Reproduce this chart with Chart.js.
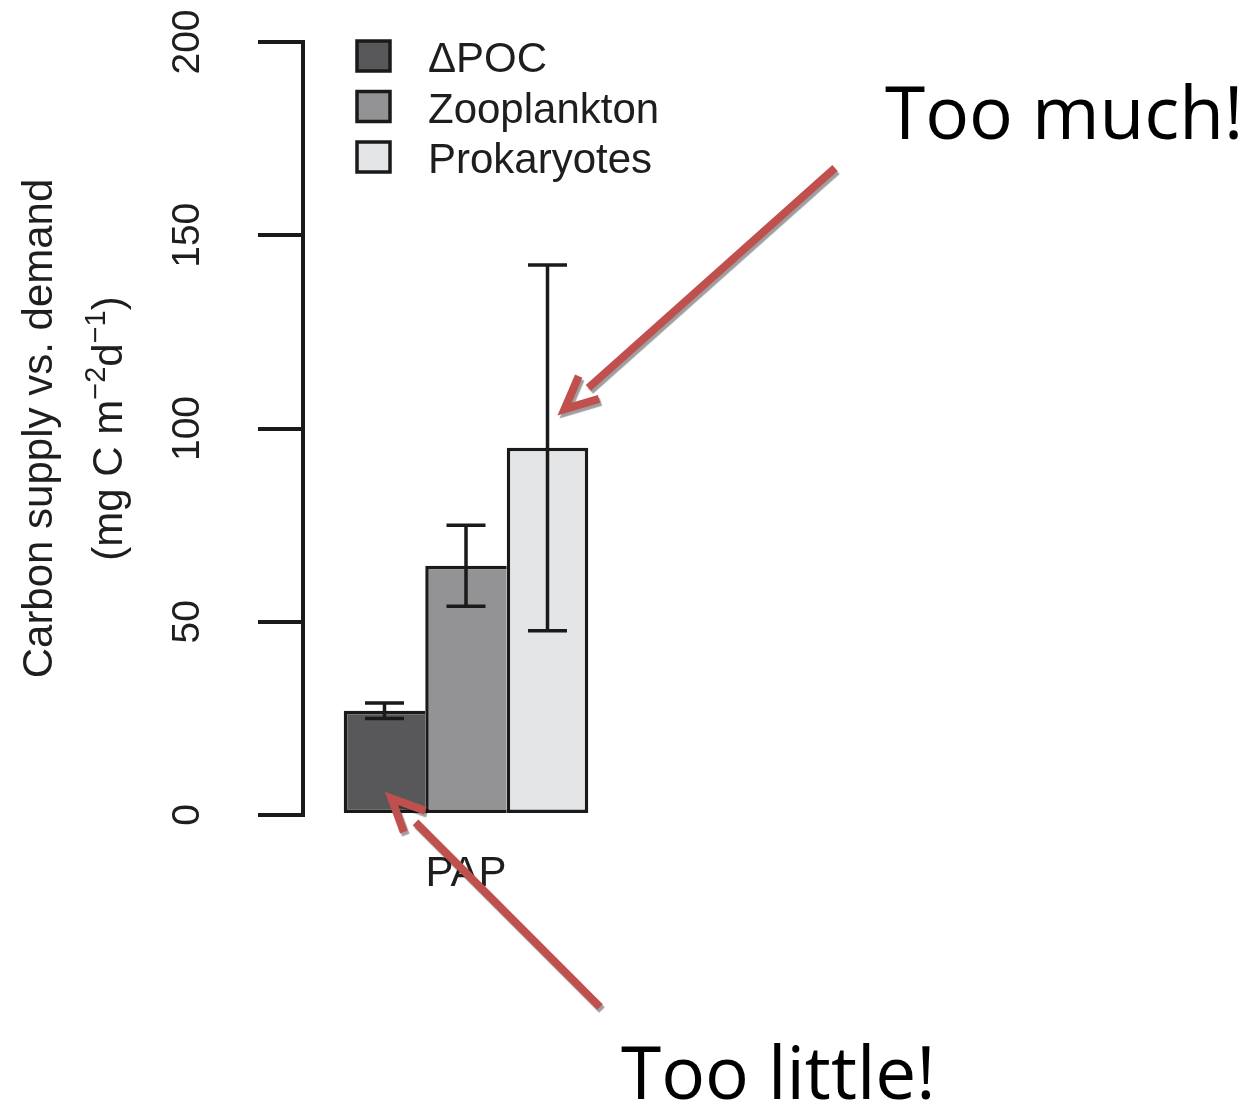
<!DOCTYPE html>
<html>
<head>
<meta charset="utf-8">
<script src="https://cdn.jsdelivr.net/npm/chart.js@4.4.1/dist/chart.umd.min.js"></script>
<style>
  html, body { margin: 0; padding: 0; background: #fff; }
  #wrap { width: 1252px; height: 1106px; }
</style>
</head>
<body>
<div id="wrap"><canvas id="carbonChart" width="1252" height="1106"></canvas></div>
<script>
// carbon supply vs demand at PAP
const sites = ["PAP"];
const seriesNames = ["ΔPOC", "Zooplankton", "Prokaryotes"];
const seriesValues = [27, 64.5, 95];
const seriesErrors = [2, 10.5, 47.3];
const seriesColors = ["#58585b", "#939396", "#e4e5e7"];
const yTicks = [0, 50, 100, 150, 200];

const INK = "#1a1a1a";
const TEXT = "#1e1e1e";
const SANS = "'Liberation Sans', Arial, Helvetica, sans-serif";
const CALLOUT_FONT = "73px 'Open Sans', 'Noto Sans', sans-serif";
const CALLOUT_RED = "#c0504d";

// error bars on top of each bar
const errorBars = {
    id: "errorBars",
    afterDatasetsDraw(chart) {
        const ctx = chart.ctx;
        const y = chart.scales.y;
        ctx.save();
        ctx.strokeStyle = INK;
        ctx.lineWidth = 3.5;
        chart.data.datasets.forEach((ds, i) => {
            const bar = chart.getDatasetMeta(i).data[0];
            const v = ds.data[0];
            const e = seriesErrors[i];
            const top = y.getPixelForValue(v + e);
            const bot = y.getPixelForValue(v - e);
            const cap = 19.5;
            ctx.beginPath();
            ctx.moveTo(bar.x, top);
            ctx.lineTo(bar.x, bot);
            ctx.moveTo(bar.x - cap, top);
            ctx.lineTo(bar.x + cap, top);
            ctx.moveTo(bar.x - cap, bot);
            ctx.lineTo(bar.x + cap, bot);
            ctx.stroke();
        });
        ctx.restore();
    }
};

// text laid out along a vertical baseline, reading bottom to top
function drawRotatedRuns(ctx, runs, baseX, centerY) {
    let total = 0;
    runs.forEach(r => {
        ctx.font = r.font;
        r.w = ctx.measureText(r.text).width;
        total += r.w;
    });
    ctx.save();
    ctx.translate(baseX, centerY);
    ctx.rotate(-Math.PI / 2);
    ctx.textAlign = "left";
    ctx.textBaseline = "alphabetic";
    let x = -total / 2;
    runs.forEach(r => {
        ctx.font = r.font;
        ctx.fillText(r.text, x, r.shift || 0);
        x += r.w;
    });
    ctx.restore();
}

// rotated tick labels, axis title and the legend block
const axisDecor = {
    id: "axisDecor",
    afterDraw(chart) {
        const ctx = chart.ctx;
        const y = chart.scales.y;
        const area = chart.chartArea;
        ctx.save();
        ctx.fillStyle = TEXT;

        yTicks.forEach(t => {
            drawRotatedRuns(ctx, [{ text: String(t), font: "39px " + SANS }], 199, y.getPixelForValue(t));
        });

        const mid = y.getPixelForValue(100);
        const big = "42px " + SANS;
        const sup = "29px " + SANS;
        drawRotatedRuns(ctx, [{ text: "Carbon supply vs. demand", font: big }], 52, mid);
        drawRotatedRuns(ctx, [
            { text: "(mg C m", font: big },
            { text: "\u22122", font: sup, shift: -17 },
            { text: "d", font: big },
            { text: "\u22121", font: sup, shift: -17 },
            { text: ")", font: big }
        ], 122, mid);

        // legend
        const lx = area.left + 54;
        seriesNames.forEach((name, i) => {
            const top = 41 + i * 50.5;
            ctx.fillStyle = seriesColors[i];
            ctx.fillRect(lx, top, 33, 30);
            ctx.strokeStyle = INK;
            ctx.lineWidth = 3.5;
            ctx.strokeRect(lx, top, 33, 30);
            ctx.fillStyle = TEXT;
            ctx.font = "42px " + SANS;
            ctx.textAlign = "left";
            ctx.textBaseline = "alphabetic";
            ctx.fillText(name, lx + 71, top + 31);
        });
        ctx.restore();
    }
};

function drawArrow(ctx, from, tip, headLen, gap) {
    const dx = tip.x - from.x;
    const dy = tip.y - from.y;
    const len = Math.hypot(dx, dy);
    const ux = dx / len;
    const uy = dy / len;
    const back = Math.atan2(-uy, -ux);
    const spread = 25 * Math.PI / 180;
    ctx.beginPath();
    ctx.moveTo(from.x, from.y);
    ctx.lineTo(tip.x - ux * gap, tip.y - uy * gap);
    ctx.stroke();
    ctx.beginPath();
    ctx.moveTo(tip.x + Math.cos(back - spread) * headLen, tip.y + Math.sin(back - spread) * headLen);
    ctx.lineTo(tip.x, tip.y);
    ctx.lineTo(tip.x + Math.cos(back + spread) * headLen, tip.y + Math.sin(back + spread) * headLen);
    ctx.stroke();
}

// slide callouts pointing at the bars
const callouts = {
    id: "callouts",
    afterDraw(chart) {
        const ctx = chart.ctx;
        const y = chart.scales.y;
        const poc = chart.getDatasetMeta(0).data[0];
        const prok = chart.getDatasetMeta(2).data[0];
        ctx.save();
        ctx.fillStyle = "#000";
        ctx.font = CALLOUT_FONT;
        ctx.textAlign = "left";
        ctx.textBaseline = "alphabetic";
        ctx.fillText("Too much!", 885, 139);
        ctx.fillText("Too little!", 621, 1099);

        ctx.strokeStyle = CALLOUT_RED;
        ctx.lineWidth = 8;
        ctx.lineJoin = "miter";
        ctx.lineCap = "butt";
        ctx.shadowColor = "rgba(0,0,0,0.38)";
        ctx.shadowOffsetX = 2;
        ctx.shadowOffsetY = 3;
        ctx.shadowBlur = 1;
        drawArrow(ctx, { x: 835, y: 168 }, { x: prok.x + 17, y: y.getPixelForValue(105) }, 36, 32);
        drawArrow(ctx, { x: 600, y: 1007 }, { x: poc.x + 7, y: y.getPixelForValue(4.3) }, 36, 34);
        ctx.restore();
    }
};

// neighbouring bars share one divider line, so only the last bar has a right edge
const datasets = seriesNames.map((name, i) => ({
    label: name,
    data: [seriesValues[i]],
    backgroundColor: seriesColors[i],
    borderColor: INK,
    borderWidth: { top: 3.5, bottom: 3.5, left: 3.5, right: i === seriesNames.length - 1 ? 3.5 : 0 },
    borderSkipped: false,
    inflateAmount: 0,
    barPercentage: 1,
    categoryPercentage: 0.75
}));

new Chart(document.getElementById("carbonChart"), {
    type: "bar",
    data: { labels: sites, datasets: datasets },
    options: {
        responsive: false,
        devicePixelRatio: 1,
        animation: false,
        layout: { padding: { top: 42, right: 623, bottom: 191, left: 0 } },
        plugins: {
            legend: { display: false },
            tooltip: { enabled: false }
        },
        scales: {
            x: {
                grid: { display: false, drawTicks: false },
                border: { display: false },
                ticks: { color: TEXT, font: { family: SANS, size: 42 }, padding: 34 },
                afterFit: s => { s.height = 100; }
            },
            y: {
                min: 0,
                max: 200,
                ticks: { stepSize: 50, display: false },
                grid: { drawOnChartArea: false, drawTicks: true, tickLength: 45, lineWidth: 4, color: INK },
                border: { display: true, width: 4, color: INK },
                afterFit: s => { s.width = 303; }
            }
        }
    },
    plugins: [errorBars, axisDecor, callouts]
});
</script>
</body>
</html>
